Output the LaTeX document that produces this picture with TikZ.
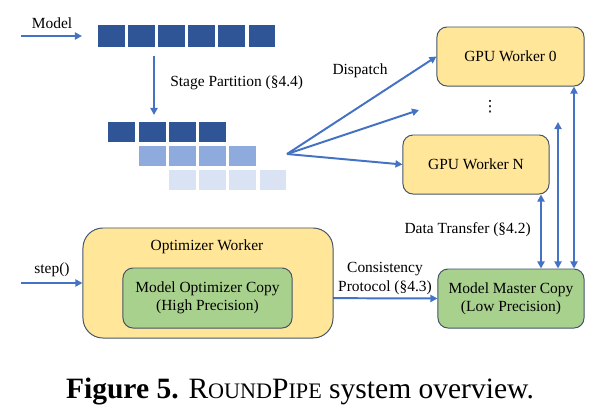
\documentclass[tikz,border=0pt]{standalone}
\usepackage{fontspec}
\setmainfont{Liberation Serif}
\newfontfamily\dotsfont{DejaVu Sans}
\usepackage{xcolor}
\usetikzlibrary{arrows.meta}
\usetikzlibrary{backgrounds,positioning,calc}
\pgfdeclarelayer{edgelayer}
\pgfdeclarelayer{nodelayer}
\pgfsetlayers{background,edgelayer,nodelayer,main}
\definecolor{flowblue}{RGB}{68,114,196}
\definecolor{darkblk}{RGB}{47,85,151}
\definecolor{midblk}{RGB}{143,170,220}
\definecolor{lightblk}{RGB}{218,227,243}
\definecolor{boxyellow}{RGB}{255,230,153}
\definecolor{boxgreen}{RGB}{169,209,142}
\definecolor{boxedge}{RGB}{68,84,106}
\tikzstyle{none}=[inner sep=0mm]
\tikzstyle{lbl}=[inner sep=0mm,font=\fontsize{11}{13.5}\selectfont,align=center]
\tikzstyle{blk}=[inner sep=0mm,minimum width=0.65cm,minimum height=0.5cm]
\tikzstyle{dk}=[blk,fill=darkblk]
\tikzstyle{md}=[blk,fill=midblk]
\tikzstyle{lt}=[blk,fill=lightblk]
\tikzstyle{box}=[draw=boxedge,line width=0.7pt,rounded corners=0.25cm,align=center,font=\fontsize{11}{13}\selectfont]
\tikzstyle{yb}=[box,fill=boxyellow]
\tikzstyle{gb}=[box,fill=boxgreen]
\tikzstyle{flow}=[draw=flowblue,line width=1.4pt,-{Triangle[length=5pt,width=5pt]}]
\tikzstyle{dflow}=[flow,{Triangle[length=5pt,width=5pt]}-{Triangle[length=5pt,width=5pt]}]

\begin{document}
\begin{tikzpicture}[x=0.025cm,y=-0.025cm]
	\useasboundingbox (0,0) rectangle (605,417);
	\begin{pgfonlayer}{nodelayer}
		% model blocks
		\node [style=dk,minimum height=0.55cm] (0) at (111.5, 36) {};
		\node [style=dk,minimum height=0.55cm] (1) at (141.5, 36) {};
		\node [style=dk,minimum height=0.55cm] (2) at (171.5, 36) {};
		\node [style=dk,minimum height=0.55cm] (3) at (201.5, 36) {};
		\node [style=dk,minimum height=0.55cm] (4) at (231.5, 36) {};
		\node [style=dk,minimum height=0.55cm] (5) at (262, 36) {};
		% stages
		\node [style=dk] (6) at (121.5, 131.5) {};
		\node [style=dk] (7) at (152.5, 131.5) {};
		\node [style=dk] (8) at (182.5, 131.5) {};
		\node [style=dk] (9) at (212.5, 131.5) {};
		\node [style=md] (10) at (152.5, 155.5) {};
		\node [style=md] (11) at (182.5, 155.5) {};
		\node [style=md] (12) at (212.5, 155.5) {};
		\node [style=md] (13) at (242.5, 155.5) {};
		\node [style=lt] (14) at (182.5, 179.5) {};
		\node [style=lt] (15) at (212.5, 179.5) {};
		\node [style=lt] (16) at (242.5, 179.5) {};
		\node [style=lt] (17) at (273, 179.5) {};
		% workers
		\node [style=yb,minimum width=3.675cm,minimum height=1.475cm] (18) at (510.5, 56.5) {GPU Worker 0};
		\node [style=yb,minimum width=3.65cm,minimum height=1.475cm] (19) at (476, 164.5) {GPU Worker N};
		\node [style=yb,rounded corners=0.5cm,minimum width=6.25cm,minimum height=2.75cm] (20) at (208, 283) {};
		\node [style=gb,minimum width=4.225cm,minimum height=1.5cm] (21) at (207.5, 298) {Model Optimizer Copy\\(High Precision)};
		\node [style=gb,minimum width=3.65cm,minimum height=1.475cm] (22) at (511, 298.5) {Model Master Copy\\(Low Precision)};
		% labels
		\node [style=lbl] (23) at (52, 23) {Model};
		\node [style=lbl,anchor=west] (24) at (170, 83) {Stage Partition (§4.4)};
		\node [style=lbl] (25) at (360, 71) {Dispatch};
		\node [style=lbl] (26) at (490, 107) {\dotsfont ⋮};
		\node [style=lbl] (27) at (207, 247) {Optimizer Worker};
		\node [style=lbl] (28) at (52, 270) {step()};
		\node [style=lbl] (29) at (385, 278.5) {Consistency\\Protocol (§4.3)};
		\node [style=lbl,anchor=east] (30) at (531, 230) {Data Transfer (§4.2)};
		\node [style=none] (31) at (300, 392) {\fontsize{21}{25}\selectfont\textbf{Figure 5.} R{\fontsize{15.75}{19}\selectfont OUND}P{\fontsize{15.75}{19}\selectfont IPE} system overview.};
		% arrow ends
		\node [style=none] (32) at (21, 36) {};
		\node [style=none] (33) at (82, 36) {};
		\node [style=none] (34) at (154, 56) {};
		\node [style=none] (35) at (154, 115) {};
		\node [style=none] (36) at (287, 154) {};
		\node [style=none] (37) at (419, 110) {};
		\node [style=none] (38) at (21, 283) {};
		\node [style=none] (39) at (558, 122) {};
		\node [style=none] (40) at (541, 0) {};
		\node [style=none] (41) at (574, 0) {};
	\end{pgfonlayer}
	\begin{pgfonlayer}{edgelayer}
		\draw [style=flow] (32.center) to (33.center);
		\draw [style=flow] (34.center) to (35.center);
		\draw [style=flow] (36.center) to (18.west);
		\draw [style=flow] (36.center) to (37.center);
		\draw [style=flow] (36.center) to (19.west);
		\draw [style=flow] (38.center) to (20.west);
		\draw [style=dflow] (21.east) to (22.west);
		\draw [style=dflow] (19.south -| 40.center) to (22.north -| 40.center);
		\draw [style=dflow] (39.center) to (22.north -| 39.center);
		\draw [style=dflow] (18.south -| 41.center) to (22.north -| 41.center);
	\end{pgfonlayer}
\end{tikzpicture}
\end{document}
